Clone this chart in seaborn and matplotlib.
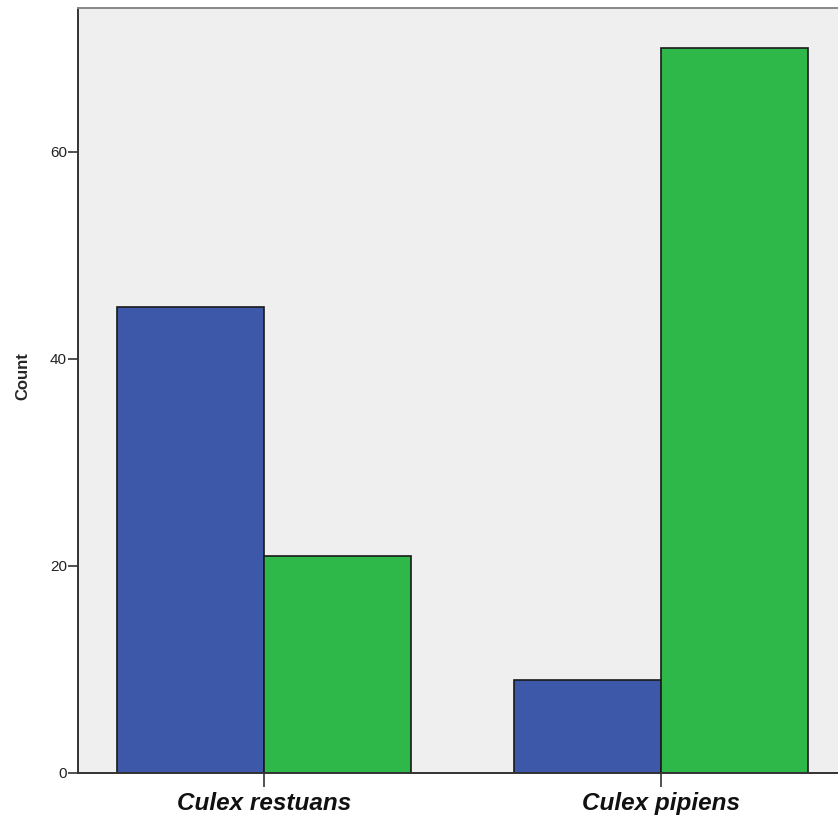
import matplotlib
matplotlib.use("Agg")
import matplotlib.pyplot as plt
import seaborn as sns
import pandas as pd

species = ["Culex restuans", "Culex pipiens"]
groups = ["Group 1", "Group 2"]
counts_group1 = [45, 9]
counts_group2 = [21, 70]

sns.set_style("white")
plt.rcParams['font.family'] = ['Liberation Sans', 'DejaVu Sans']

df = pd.DataFrame({
    "species": species * 2,
    "group": [groups[0]] * 2 + [groups[1]] * 2,
    "count": counts_group1 + counts_group2,
})

fig = plt.figure(figsize=(8.38, 8.17), dpi=100)
ax = fig.add_axes([78 / 838, 44 / 817, 769 / 838, 765 / 817])
ax.set_facecolor("#efefef")

sns.barplot(data=df, x="species", y="count", hue="group", order=species,
            hue_order=groups, palette=["#3d58a8", "#2eb84a"], saturation=1,
            width=0.74, gap=0, edgecolor="#1a1a1a", linewidth=1.2,
            legend=False, ax=ax)

ax.set_xlim(-0.4685, 1.4685)
ax.set_ylim(0, 73.9)
ax.set_yticks([0, 20, 40, 60])
ax.set_xlabel("")
ax.set_ylabel("Count", fontsize=12, fontweight="bold")
ax.yaxis.set_label_coords(-0.062, 0.519)

for side in ["left", "bottom"]:
    ax.spines[side].set_color("#333333")
    ax.spines[side].set_linewidth(1.4)
ax.spines["top"].set_color("#888888")
ax.spines["top"].set_linewidth(1.4)
ax.spines["right"].set_visible(False)

ax.tick_params(axis="y", direction="out", length=7, width=1.2, color="#333333",
               labelsize=11, pad=1, left=True, labelcolor="#222222")
ax.tick_params(axis="x", direction="out", length=10, width=1.2, color="#333333",
               labelsize=17.5, pad=4, bottom=True, labelcolor="#111111")
for lbl in ax.get_xticklabels():
    lbl.set_fontweight("bold")
    lbl.set_fontstyle("italic")

fig.savefig("out.png", dpi=100)
